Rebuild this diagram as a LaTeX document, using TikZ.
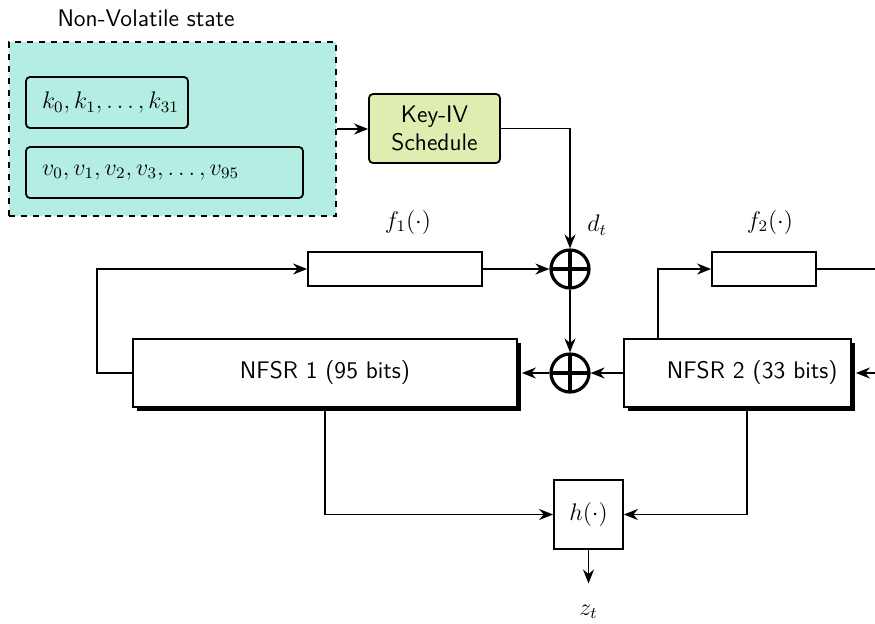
\documentclass[tikz,border=0pt]{standalone}
\usepackage{amsmath,amssymb}
\usepackage{tikz}
\usetikzlibrary{arrows.meta,positioning,shadows}
\definecolor{nvFill}{HTML}{B4EDE2}
\definecolor{ksFill}{HTML}{DFEDB1}

\tikzset{
  keybox/.style={draw,rounded corners=2pt,fill=nvFill,minimum height=25.5pt,inner xsep=8pt,align=left},
  regbox/.style={draw,fill=white,font=\large\sffamily,minimum height=34pt,drop shadow={shadow xshift=2pt,shadow yshift=-2pt,fill=black,opacity=1}},
  fbox/.style={draw,minimum height=17pt,inner sep=0pt},
  xorop/.style={draw,circle,line width=1.6pt,minimum size=19pt,inner sep=0pt,
    path picture={\draw[line width=1.6pt] (path picture bounding box.north)--(path picture bounding box.south)
      (path picture bounding box.west)--(path picture bounding box.east);}}
}

\begin{document}
\begin{tikzpicture}[x=1pt,y=-1pt,>={Stealth[length=7pt,width=5.5pt]},line width=0.9pt,every node/.style={font=\large}]
        \useasboundingbox (0,0) rectangle (437.5,311.5);
        \clip (0,0) rectangle (437.5,311.5);
        % non-volatile state and schedule
        \node[font=\large\sffamily] (nvlabel) at (73,9) {Non-Volatile state};
        \node[draw,dashed,fill=nvFill,minimum width=163.5pt,minimum height=87pt] (nvstate) at (86.25,64.5) {};
        \node[keybox,text width=65pt] (kreg) at (53.5,51.25) {$k_0,k_1,\ldots,k_{31}$};
        \node[keybox,text width=122.5pt] (vreg) at (82.25,86.25) {$v_0,v_1,v_2,v_3,\ldots,v_{95}$};
        \node[draw,rounded corners=2pt,fill=ksFill,font=\large\sffamily,align=center,minimum width=65.5pt,minimum height=34.5pt,inner sep=1pt] (keyiv) at (217.25,64.25) {Key-IV\\Schedule};
        % registers and feedback
        \node[xorop] (xor1) at (285,134.5) {};
        \node[xorop] (xor2) at (285,186.5) {};
        \node (dt) at (298.5,112.5) {$d_t$};
        \node[fbox,minimum width=87pt] (f1) at (197.5,134.5) {};
        \node (f1lbl) at (204,111) {$f_1(\cdot)$};
        \node[fbox,minimum width=52pt] (f2) at (382,134.5) {};
        \node (f2lbl) at (385,111) {$f_2(\cdot)$};
        \node[regbox,minimum width=192pt] (nfsr1) at (162.5,186.5) {NFSR 1 (95 bits)};
        \node[regbox,text width=100pt,align=right,inner xsep=6.75pt] (nfsr2) at (368.75,186.5) {NFSR 2 (33 bits)};
        \node[draw,minimum size=34.5pt] (h) at (294.25,257.25) {$h(\cdot)$};
        \node (zt) at (294.25,306) {$z_t$};
        \coordinate (lloop) at (48.5,134.5);
        \coordinate (f2tap) at (329,170);
        \coordinate (htap) at (373.5,204);
        \coordinate (rtop) at (445,134.5);
        \coordinate (rbot) at (445,186.5);
        \draw[->] (nvstate.east) -- (nvstate.east -| keyiv.west);
        \draw[->] (keyiv.east) -| (xor1.north);
        \draw[->] (nfsr1.west) -| (lloop) -- (f1.west);
        \draw[->] (f1.east) -- (xor1.west);
        \draw[->] (xor1.south) -- (xor2.north);
        \draw[->] (nfsr2.west) -- (xor2.east);
        \draw[->] (xor2.west) -- ([xshift=2pt]nfsr1.east);
        \draw[->] (nfsr2.north -| f2tap) |- (f2.west);
        \draw (f2.east) -- (rtop);
        \draw[->] (rbot) -- ([xshift=2pt]nfsr2.east);
        \draw[->] (nfsr1.south) |- (h.west);
        \draw[->] (nfsr2.south -| htap) |- (h.east);
        \draw[->,shorten >=7pt] (h.south) -- (zt.north);
      \end{tikzpicture}
\end{document}
